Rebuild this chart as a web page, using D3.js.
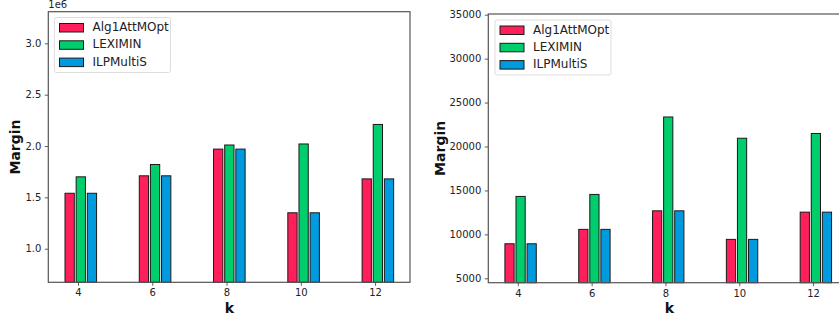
<!DOCTYPE html>
<html>
<head>
<meta charset="utf-8">
<script src="https://cdn.jsdelivr.net/npm/d3@7"></script>
<style>
  html, body { margin: 0; padding: 0; background: #fff; }
  svg { display: block; font-family: "DejaVu Sans", sans-serif; }
</style>
</head>
<body>
<svg id="chart" width="839" height="322"></svg>
<script>
// k values on the x axis
const ks = [4, 6, 8, 10, 12];
const seriesNames = ["Alg1AttMOpt", "LEXIMIN", "ILPMultiS"];
const seriesColors = ["#ff1f5b", "#00cd6c", "#009ade"];

// Left panel margins (units of 1e6)
const leftAlg1 = [1.54, 1.71, 1.97, 1.35, 1.68];
const leftLeximin = [1.70, 1.82, 2.01, 2.02, 2.21];
const leftIlp = [1.54, 1.71, 1.97, 1.35, 1.68];
const leftTicks = [1.0, 1.5, 2.0, 2.5, 3.0];

// Right panel margins
const rightAlg1 = [8930, 10570, 12680, 9430, 12530];
const rightLeximin = [14320, 14545, 23360, 20940, 21480];
const rightIlp = [8930, 10570, 12680, 9430, 12530];
const rightTicks = [5000, 10000, 15000, 20000, 25000, 30000, 35000];

const svg = d3.select("#chart");
const barWidth = 0.25, barStep = 0.3, barStart = -0.35;

function panel(cfg) {
  const g = svg.append("g");
  const x = d3.scaleLinear().domain([3.2, 12.94]).range([cfg.left, cfg.right]);
  const y = d3.scaleLinear().domain(cfg.yDomain).range([cfg.bottom, cfg.top]);

  // bars
  cfg.series.forEach((vals, si) => {
    g.append("g").selectAll("rect").data(vals).join("rect")
      .attr("x", (d, i) => x(ks[i] + barStart + si * barStep))
      .attr("width", (d, i) => x(ks[i] + barStart + si * barStep + barWidth) - x(ks[i] + barStart + si * barStep))
      .attr("y", d => y(d))
      .attr("height", d => cfg.bottom - y(d))
      .attr("fill", seriesColors[si])
      .attr("stroke", "#1a1a1a")
      .attr("stroke-width", 1);
  });

  // axes
  const xAxis = d3.axisBottom(x).tickValues(ks).tickSize(3.5).tickPadding(3.5).tickFormat(d3.format("d"));
  const yAxis = d3.axisLeft(y).tickValues(cfg.ticks).tickSize(3.5).tickPadding(3.5).tickFormat(cfg.fmt);
  const xa = g.append("g").attr("transform", `translate(0,${cfg.bottom})`).call(xAxis);
  const ya = g.append("g").attr("transform", `translate(${cfg.left},0)`).call(yAxis);
  [xa, ya].forEach(a => {
    a.select(".domain").remove();
    a.selectAll("line").attr("stroke", "#333").attr("stroke-width", 0.8);
    a.selectAll("text").attr("fill", "#222").style("font-size", "10px").style("font-family", "DejaVu Sans");
  });

  // frame
  g.append("rect")
    .attr("x", cfg.left).attr("y", cfg.top)
    .attr("width", cfg.right - cfg.left).attr("height", cfg.bottom - cfg.top)
    .attr("fill", "none").attr("stroke", "#555").attr("stroke-width", 1.2);

  // axis labels
  g.append("text")
    .attr("transform", `translate(${cfg.ylabX},${(cfg.top + cfg.bottom) / 2}) rotate(-90)`)
    .attr("text-anchor", "middle").attr("dominant-baseline", "middle")
    .style("font-size", "14px").style("font-weight", "bold").attr("fill", "#111")
    .text("Margin");
  g.append("text")
    .attr("x", (cfg.left + cfg.left + 362) / 2).attr("y", 313)
    .attr("text-anchor", "middle")
    .style("font-size", "14px").style("font-weight", "bold").attr("fill", "#111")
    .text("k");

  if (cfg.offset) {
    g.append("text").attr("x", cfg.left).attr("y", 8)
      .style("font-size", "10px").attr("fill", "#222").text(cfg.offset);
  }

  // legend
  const lg = g.append("g").attr("transform", `translate(${cfg.legX},${cfg.legY})`);
  lg.append("rect").attr("width", 116).attr("height", 55).attr("rx", 2)
    .attr("fill", "#fff").attr("fill-opacity", 0.8).attr("stroke", "#ddd").attr("stroke-width", 1);
  seriesNames.forEach((name, i) => {
    const cy = 10 + i * 17.3;
    lg.append("rect").attr("x", 5).attr("y", cy - 4).attr("width", 24).attr("height", 8.5)
      .attr("fill", seriesColors[i]).attr("stroke", "#1a1a1a").attr("stroke-width", 1);
    lg.append("text").attr("x", 38).attr("y", cy).attr("dominant-baseline", "middle")
      .style("font-size", "12px").attr("fill", "#222").text(name);
  });
}

panel({
  left: 48.3, right: 410, top: 11.7, bottom: 282.3,
  yDomain: [0.673, 3.308], ticks: leftTicks, fmt: d3.format(".1f"),
  series: [leftAlg1, leftLeximin, leftIlp],
  ylabX: 16, offset: "1e6", legX: 54.5, legY: 17.5
});

panel({
  left: 488.3, right: 847.8, top: 14, bottom: 282.7,
  yDomain: [4500, 35080], ticks: rightTicks, fmt: d3.format("d"),
  series: [rightAlg1, rightLeximin, rightIlp],
  ylabX: 441, offset: null, legX: 495, legY: 20
});
</script>
</body>
</html>
